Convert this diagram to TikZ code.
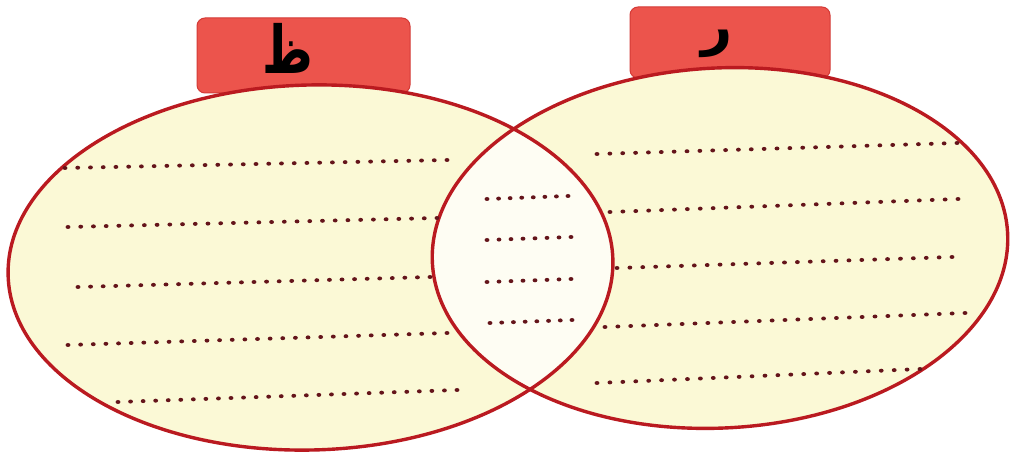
\documentclass[tikz,border=0pt]{standalone}
\usepackage{fontspec}
\usetikzlibrary{calc}
\newfontfamily\arabicfont[Script=Arabic]{DejaVu Sans}
\TeXXeTstate=1
\definecolor{vfill}{RGB}{251,249,214}
\definecolor{lensfill}{RGB}{254,253,243}
\definecolor{vline}{RGB}{186,26,32}
\definecolor{tagred}{RGB}{236,84,76}
\definecolor{tagedge}{RGB}{212,58,54}
\definecolor{dotc}{RGB}{100,20,26}
\newcommand\dotrow[3]{\foreach \k in {0,...,#3} {\fill[dotc] ($#1!\k/#3!#2$) ellipse [x radius=2.4, y radius=2];}}
\begin{document}
\begin{tikzpicture}[x=1pt,y=-1pt,
  tag/.style={fill=tagred, draw=tagedge, line width=1pt, rounded corners=8pt},
  letter/.style={inner sep=0pt, font=\arabicfont\bfseries\fontsize{#1}{#1}\selectfont, text=black},
  rim/.style={draw=vline, line width=3.4pt}]
\useasboundingbox (0,0) rectangle (1013,454);
\fill[white] (0,0) rectangle (1013,454);
% tags
\path[tag] (197,18) rectangle (410,93);
\path[tag] (630,7) rectangle (830,78);
\node[letter=66, xscale=0.74] (tagL) at (288,48) {\beginR ظ\endR};
\node[letter=54] (tagR) at (717,44) {\beginR ر\endR};
% set fills
\fill[vfill, rotate around={1.5:(310.5,267.5)}] (310.5,267.5) ellipse [x radius=302.5, y radius=182.5];
\fill[vfill, rotate around={3:(720,248)}] (720,248) ellipse [x radius=288, y radius=180];
\begin{scope}
\clip[rotate around={1.5:(310.5,267.5)}] (310.5,267.5) ellipse [x radius=302.5, y radius=182.5];
\fill[lensfill, rotate around={3:(720,248)}] (720,248) ellipse [x radius=288, y radius=180];
\end{scope}
% outlines
\path[rim, rotate around={1.5:(310.5,267.5)}] (310.5,267.5) ellipse [x radius=302.5, y radius=182.5];
\path[rim, rotate around={3:(720,248)}] (720,248) ellipse [x radius=288, y radius=180];
% writing lines, left
\dotrow{(65,168)}{(447,160)}{30}
\dotrow{(68,227)}{(437,218)}{29}
\dotrow{(78,287)}{(430,277)}{28}
\dotrow{(68,345)}{(447,333)}{30}
\dotrow{(118,402)}{(457,390)}{27}
% middle
\dotrow{(487,199)}{(568,196)}{7}
\dotrow{(487,240)}{(571,237)}{7}
\dotrow{(487,282)}{(571,279)}{7}
\dotrow{(490,323)}{(572,320)}{7}
% right
\dotrow{(597,154)}{(957,143)}{28}
\dotrow{(610,212)}{(958,199)}{27}
\dotrow{(617,268)}{(952,257)}{26}
\dotrow{(605,327)}{(965,313)}{28}
\dotrow{(597,383)}{(920,369)}{25}
\end{tikzpicture}
\end{document}
